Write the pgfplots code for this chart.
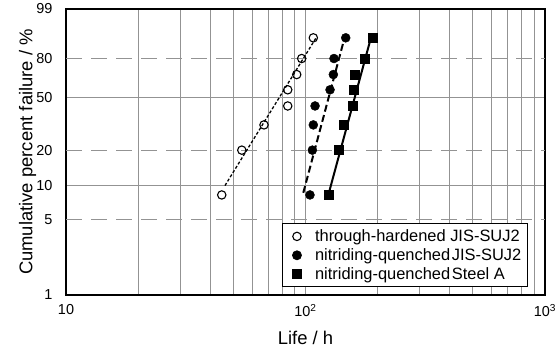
\documentclass[border=0pt]{standalone}
\usepackage{fontspec}
\setmainfont{Liberation Sans}
\usepackage{pgfplots}
\pgfplotsset{compat=1.18}
\begin{document}
\begin{tikzpicture}
\useasboundingbox (0,0) rectangle (555bp,351bp);
\begin{axis}[
  at={(66bp,56bp)}, anchor=south west,
  width=479bp, height=286bp, scale only axis,
  xmode=log, xmin=10, xmax=1000,
  xtick={10,100,1000},
  xticklabels={10,10\textsuperscript{2},10\textsuperscript{3}},
  xminorgrids=true, xmajorgrids=true,
  y coord trafo/.code={\pgfmathparse{ln(-ln(1-#1/100))}},
  y coord inv trafo/.code={\pgfmathparse{100*(1-exp(-exp(#1)))}},
  ymin=1, ymax=99,
  ytick={1,10,50,99},
  yticklabels={1,10,50,99},
  ymajorgrids=true,
  extra y ticks={5,20,80},
  extra y tick labels={5,20,80},
  extra y tick style={grid=major, major grid style={gray!85, line width=0.9bp, dash pattern=on 16bp off 9bp}},
  major grid style={gray!85, line width=0.9bp},
  minor grid style={gray!85, line width=0.9bp},
  major tick length=0pt, minor tick length=0pt,
  axis line style={line width=1.6bp},
  tick label style={font=\fontsize{14.5}{17}\selectfont},
  /pgf/number format/assume math mode=true,
  xticklabel style={yshift=-6bp},
  yticklabel style={xshift=-10bp},
  xlabel={Life / h},
  ylabel={Cumulative percent failure / \%},
  label style={font=\fontsize{18.5}{21}\selectfont},
  xlabel style={at={(axis description cs:0.5,-0.151)}, anchor=center},
  ylabel style={at={(axis description cs:-0.080,0.5)}, anchor=center, rotate=0},
  legend cell align=left,
  legend image code/.code={\path (-10bp,0bp) (15.7bp,0bp); \draw[#1] plot coordinates {(0bp,0bp)};},
  legend style={at={(0.964,0.027)}, anchor=south east, draw=black, line width=0.8bp,
    font=\fontsize{16.5}{19}\selectfont, row sep=1.5bp, inner xsep=4bp, inner ysep=4bp, fill=white},
]
% fit lines
\addplot[forget plot, black, line width=1.3bp, dash pattern=on 3bp off 2bp] coordinates {(46.1,10.07) (110.3,91.4)};
\addplot[forget plot, black, line width=2bp, dash pattern=on 7bp off 3.5bp] coordinates {(97.9,8.7) (146,92.2)};
\addplot[forget plot, black, line width=2bp] coordinates {(125.4,8.8) (189,92.9)};
% data
\addplot[only marks, mark=o, mark size=4.2bp, mark options={line width=1.1bp, fill=white}, black] coordinates {
(44.7,8.33) (54.2,20.24) (67.1,32.14) (84.3,44.05) (84.3,55.95) (91.9,67.86) (96.4,79.76) (107.8,91.67)};
\addlegendentry{through-hardened JIS-SUJ2}
\addplot[only marks, mark=*, mark size=4.5bp, black] coordinates {
(104.4,8.33) (106.8,20.24) (107.8,32.14) (109.6,44.05) (126.6,55.95) (130.7,67.86) (131.5,79.76) (147.2,91.67)};
\addlegendentry{nitriding-quenched\hspace{0.1em}JIS-SUJ2}
\addplot[only marks, mark=square*, mark size=4.5bp, black] coordinates {
(125.4,8.33) (137.1,20.24) (143.8,32.14) (157.4,44.05) (159.4,55.95) (160.9,67.86) (177.2,79.76) (190.1,91.67)};
\addlegendentry{nitriding-quenched\hspace{0.1em}Steel A}
\end{axis}
\end{tikzpicture}
\end{document}
